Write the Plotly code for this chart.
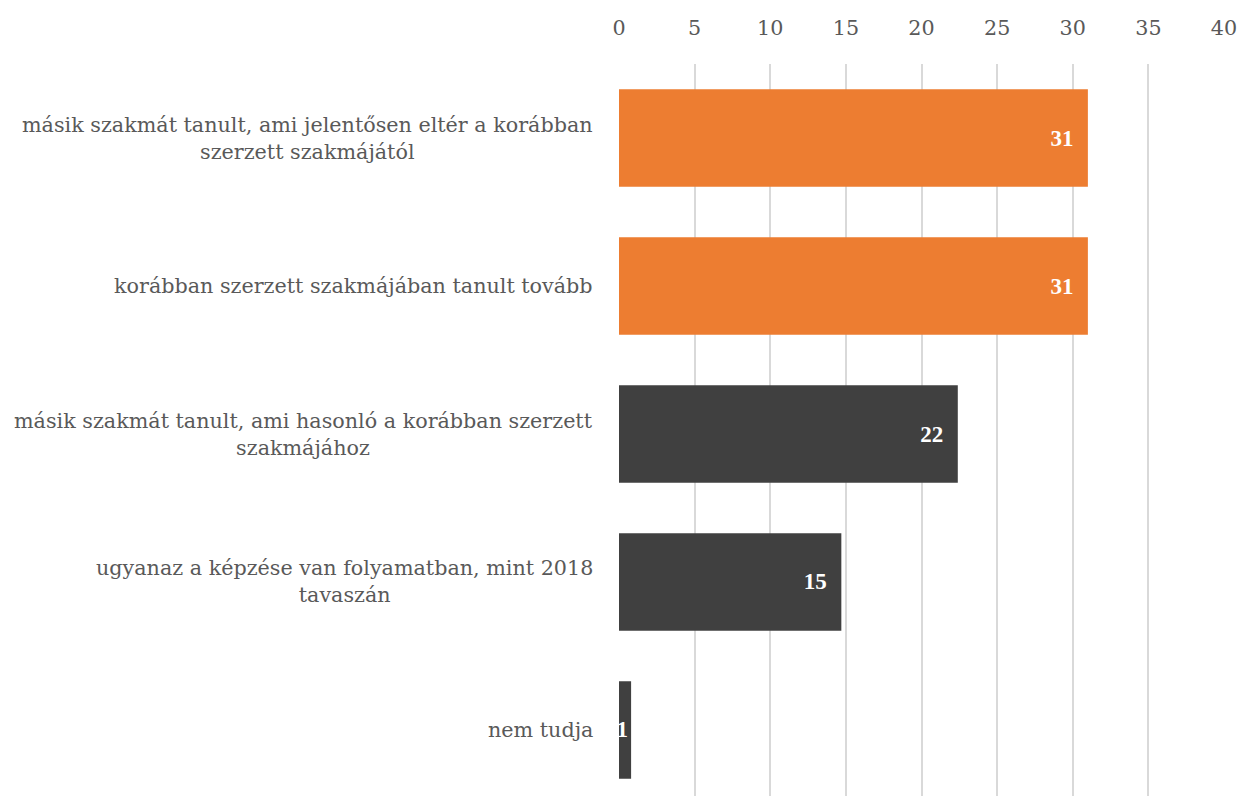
import plotly.graph_objects as go

# Answer categories (top to bottom) and their shares
categories = [
    "másik szakmát tanult, ami jelentősen eltér a korábban<br>szerzett szakmájától",
    "korábban szerzett szakmájában tanult tovább",
    "másik szakmát tanult, ami hasonló a korábban szerzett<br>szakmájához",
    "ugyanaz a képzése van folyamatban, mint 2018<br>tavaszán",
    "nem tudja",
]
values = [31.0, 31.0, 22.4, 14.7, 0.8]
bar_colors = ["#ED7D31", "#ED7D31", "#404040", "#404040", "#404040"]
x_ticks = [0, 5, 10, 15, 20, 25, 30, 35, 40]

LABEL_FONT = "DejaVu Serif"
VALUE_FONT = "Liberation Serif"
positions = list(range(len(categories)))

# value labels sit a little in from the bar end; the thinnest bar keeps it flush
value_templates = ["%{x:.0f}\u00a0\u00a0"] * (len(values) - 1) + ["%{x:.0f}"]

fig = go.Figure(
    go.Bar(
        x=values,
        y=positions,
        orientation="h",
        marker=dict(color=bar_colors, line=dict(width=0)),
        width=0.66,
        texttemplate=value_templates,
        textposition="inside",
        insidetextanchor="end",
        constraintext="none",
        textfont=dict(family=VALUE_FONT, size=23, color="white", weight="bold"),
        cliponaxis=True,
        hoverinfo="skip",
    )
)

# Category labels, centred on each line and right-aligned against the plot
for pos, label in zip(positions, categories):
    fig.add_annotation(
        x=0, xref="paper", xanchor="right", xshift=-24,
        y=pos, yref="y", yanchor="middle",
        text=label, align="center", showarrow=False,
        font=dict(family=LABEL_FONT, size=20.7, color="#595959"),
    )

fig.update_layout(
    width=1241,
    height=796,
    margin=dict(l=619, r=17, t=64, b=0),
    paper_bgcolor="white",
    plot_bgcolor="white",
    showlegend=False,
    xaxis=dict(
        side="top",
        range=[0, 40],
        tickvals=x_ticks,
        showgrid=True,
        gridcolor="#D9D9D9",
        gridwidth=1.5,
        zeroline=False,
        showline=False,
        ticks="",
        ticklabelstandoff=24,
        tickfont=dict(family=LABEL_FONT, size=20.7, color="#595959"),
    ),
    yaxis=dict(
        range=[4.446, -0.5],
        showticklabels=False,
        showgrid=False,
        zeroline=False,
        showline=False,
        ticks="",
    ),
)

fig.write_html("out.html")
